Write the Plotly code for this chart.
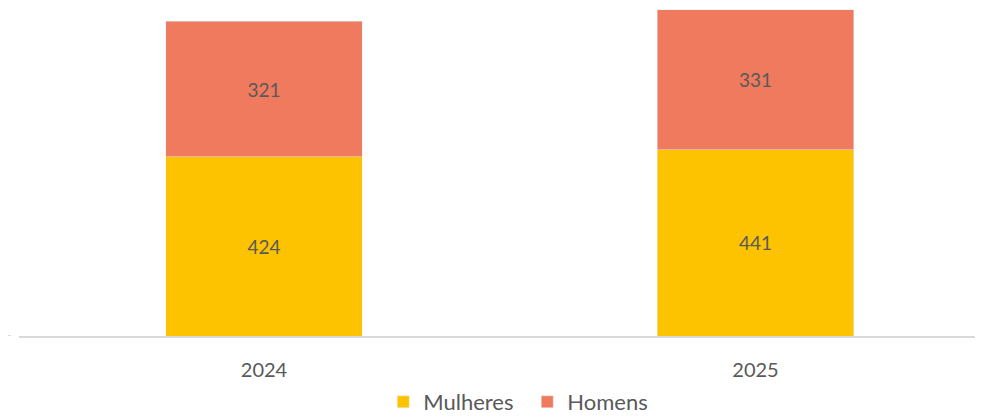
import plotly.graph_objects as go

years = ["2024", "2025"]
mulheres = [424, 441]
homens = [321, 331]
x_pos = [0, 1]

C_M = "#FDC300"
C_H = "#EF7A5E"
TXT = "#595959"
FONT = "Lato"

fig = go.Figure()
fig.add_trace(go.Bar(name="Mulheres", x=x_pos, y=mulheres, marker_color=C_M,
                     width=0.399, text=[str(v) for v in mulheres], textposition="inside",
                     insidetextanchor="middle", textfont=dict(color=TXT, size=19, family=FONT)))
fig.add_trace(go.Bar(name="Homens", x=x_pos, y=homens, marker_color=C_H,
                     width=0.399, text=[str(v) for v in homens], textposition="inside",
                     insidetextanchor="middle", textfont=dict(color=TXT, size=19, family=FONT)))

fig.update_layout(
    barmode="stack",
    width=987, height=417,
    margin=dict(l=11, r=20, t=0, b=89, autoexpand=False),
    paper_bgcolor="white", plot_bgcolor="white",
    font=dict(family=FONT, color=TXT, size=18),
    showlegend=True,
    legend=dict(orientation="h", x=0.381, xanchor="left", y=-87/328, yanchor="bottom",
                font=dict(size=22, color=TXT, family=FONT), traceorder="normal",
                itemwidth=30, entrywidth=99, entrywidthmode="pixels"),
    xaxis=dict(range=[-0.4985, 1.4466], tickvals=x_pos, ticktext=years,
               showline=True, linecolor="#D9D9D9", linewidth=2, showgrid=False,
               zeroline=False, ticks="", ticklabelstandoff=15, automargin=False,
               tickfont=dict(size=20, color=TXT, family=FONT)),
    yaxis=dict(range=[0, 776.3], visible=False, showgrid=False, zeroline=False, automargin=False),
    uniformtext=dict(mode="show", minsize=10),
)
fig.add_shape(type="line", xref="paper", yref="y", x0=-11/956, x1=-8/956, y0=0, y1=0,
              line=dict(color="#D9D9D9", width=2))

fig.write_html("out.html")
